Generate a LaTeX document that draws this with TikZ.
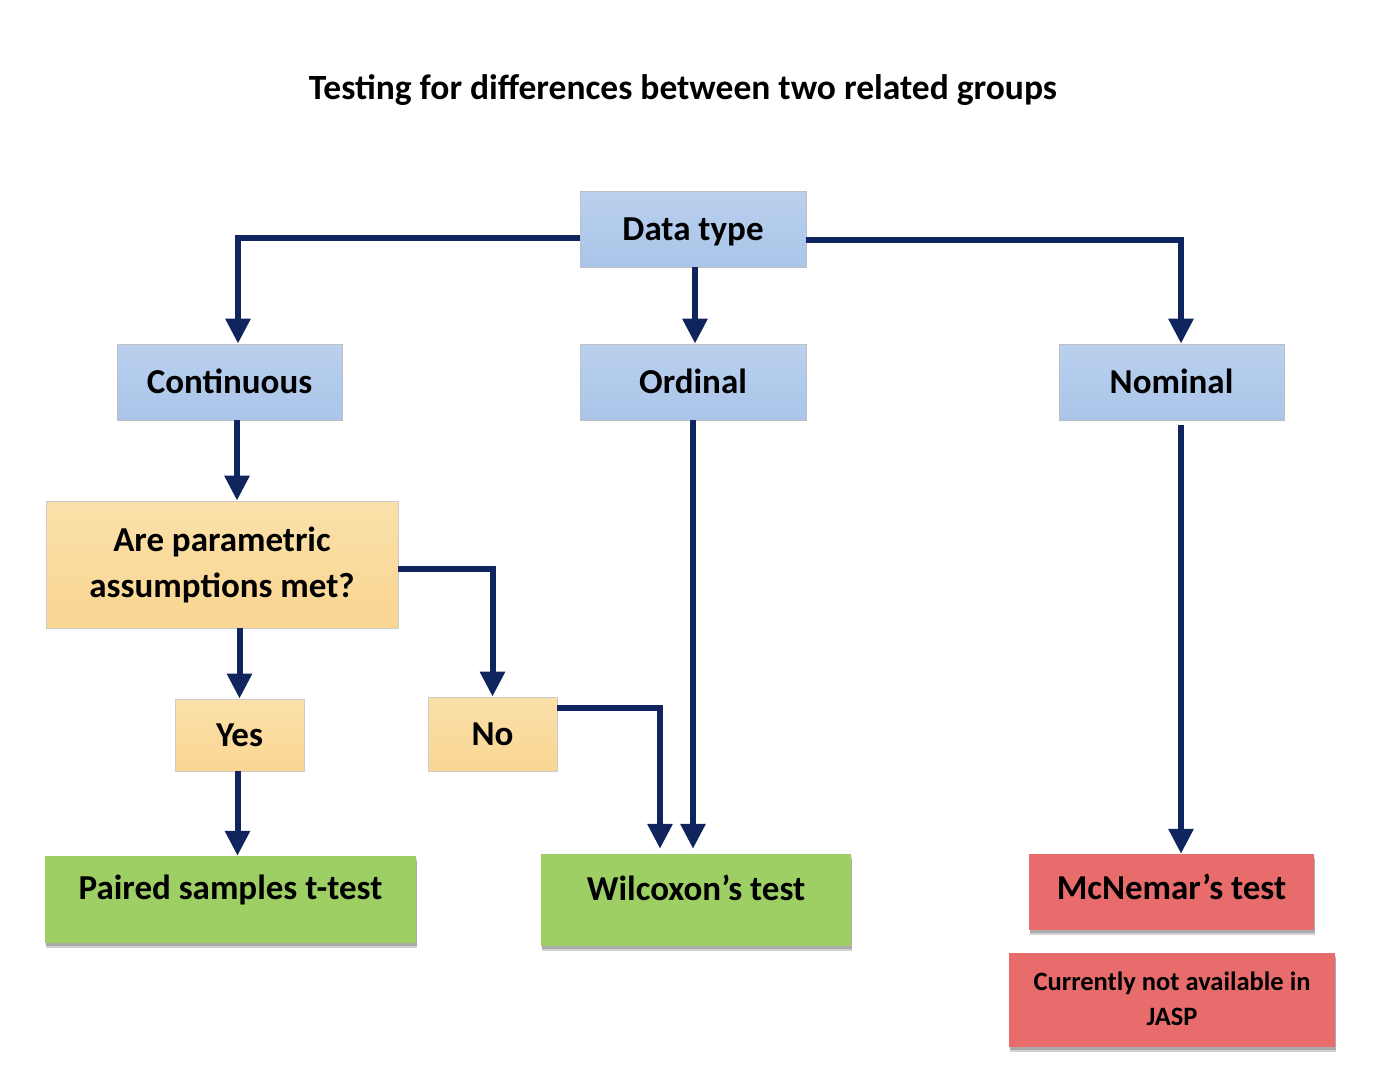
\documentclass[tikz,border=0pt]{standalone}
\usepackage{fontspec}
\setmainfont{Carlito}
\usetikzlibrary{arrows.meta,shadows}
\definecolor{navy}{RGB}{16,37,94}
\definecolor{bluefill}{RGB}{170,197,233}
\definecolor{bluetop}{RGB}{186,208,238}
\definecolor{yellowfill}{RGB}{249,214,146}
\definecolor{yellowtop}{RGB}{251,224,170}
\definecolor{greenfill}{RGB}{158,207,101}
\definecolor{redfill}{RGB}{232,108,108}
\tikzset{
  basebox/.style={rectangle, inner sep=0pt, font=\fontsize{35}{46}\bfseries\selectfont, align=center},
  onel/.style={text height=22.5pt, text depth=0pt},
  bluebox/.style={basebox, top color=bluetop, bottom color=bluefill, draw=black!25, line width=0.8pt},
  yellowbox/.style={basebox, top color=yellowtop, bottom color=yellowfill, draw=black!20, line width=0.8pt},
  shadowed/.style={drop shadow={shadow xshift=1pt, shadow yshift=-3pt, fill=black, opacity=0.18},
                   drop shadow={shadow xshift=1pt, shadow yshift=-5pt, fill=black, opacity=0.18}},
  greenbox/.style={basebox, fill=greenfill, shadowed},
  redbox/.style={basebox, fill=redfill, shadowed},
  arr/.style={draw=navy, line width=6pt, -{Triangle[width=24pt,length=25pt]}},
}
\begin{document}
\begin{tikzpicture}[x=1pt,y=-1pt]
\useasboundingbox[fill=white] (0,0) rectangle (1384,1074);

\node[font=\fontsize{35.5}{40}\bfseries\selectfont] (title) at (683,90) {Testing for differences between two related groups};

\node[bluebox, onel, minimum width=226pt, minimum height=76pt] (dtype) at (693,229) {Data type};
\node[bluebox, onel, minimum width=225pt, minimum height=76pt] (cont) at (229.5,382) {Continuous};
\node[bluebox, onel, minimum width=226pt, minimum height=76pt] (ord) at (693,382) {Ordinal};
\node[bluebox, onel, minimum width=225pt, minimum height=76pt] (nom) at (1171.5,382) {Nominal};

\node[yellowbox, text depth=4pt, minimum width=352pt, minimum height=127pt] (param) at (222,564.5) {Are parametric\\assumptions met?};
\node[yellowbox, onel, minimum width=129pt, minimum height=72pt] (yes) at (239.5,735) {Yes};
\node[yellowbox, onel, minimum width=129pt, minimum height=74pt] (no) at (492.5,734) {No};

\node[greenbox, text height=24pt, text depth=24pt, minimum width=371pt, minimum height=87pt] (paired) at (230.5,899.5) {Paired samples t-test};
\node[greenbox, text height=25pt, text depth=25pt, minimum width=310pt, minimum height=92pt] (wilc) at (696,900) {Wilcoxon’s test};
\node[redbox, text height=22.5pt, text depth=8pt, minimum width=285pt, minimum height=76pt] (mcn) at (1171.5,892) {McNemar’s test};
\node[redbox, font=\fontsize{26.5}{35}\bfseries\selectfont, text depth=3pt, minimum width=326pt, minimum height=94pt] (curr) at (1172,1000) {Currently not available in\\JASP};

% connectors
\draw[arr] ([yshift=-9pt]dtype.west) -| ([xshift=8.5pt]cont.north);
\draw[arr] ([xshift=2pt]dtype.south) -- ([xshift=2pt]ord.north);
\draw[arr] ([yshift=-11pt]dtype.east) -| ([xshift=9.5pt]nom.north);
\draw[arr] ([xshift=7.5pt]cont.south) -- ([xshift=7.5pt]cont.south |- param.north);
\draw[arr] (param.south -| yes.north) -- (yes.north);
\draw[arr] ([yshift=-4pt]param.east) -| (no.north);
\draw[arr] ([xshift=-2pt]yes.south) -- ([xshift=-2pt]yes.south |- paired.north);
\draw[arr, shorten >=5pt] ([yshift=26pt]no.east) -| ([xshift=-36pt]wilc.north);
\draw[arr, shorten >=5pt] (ord.south) -- (ord.south |- wilc.north);
\draw[arr, shorten <=5pt] ([xshift=9.5pt]nom.south) -- ([xshift=9.5pt]nom.south |- mcn.north);
\end{tikzpicture}
\end{document}
